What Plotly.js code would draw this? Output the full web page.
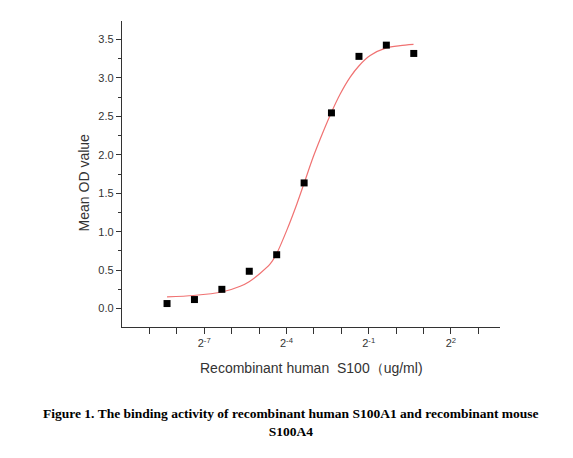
<!DOCTYPE html>
<html>
<head>
<meta charset="utf-8">
<script src="https://cdn.plot.ly/plotly-3.0.1.min.js"></script>
<style>
  html, body { margin: 0; padding: 0; background: #fff; }
  #myDiv { width: 573px; height: 458px; }
</style>
</head>
<body>
<div id="myDiv"></div>
<script>
// measured points (ug/ml, mean OD)
var conc = [0.00305, 0.0061, 0.0122, 0.0244, 0.0488, 0.0977, 0.195, 0.391, 0.781, 1.5625]
var od = [0.065, 0.117, 0.25, 0.485, 0.70, 1.634, 2.545, 3.28, 3.426, 3.318]

// fitted curve
var fitX = [0.00305, 0.00594, 0.0122, 0.0194, 0.0243, 0.0322, 0.0414, 0.0490, 0.0631, 0.0813,
  0.0979, 0.1237, 0.1593, 0.1936, 0.2432, 0.3131, 0.3898, 0.5191, 0.7786, 1.110, 1.553]
var fitY = [0.151, 0.170, 0.215, 0.29, 0.35, 0.46, 0.58, 0.72, 1.02, 1.36,
  1.634, 1.98, 2.31, 2.545, 2.79, 3.01, 3.155, 3.29, 3.39, 3.42, 3.435]

// x ticks: every power of two, labels every third
var tickPow = [-9, -8, -7, -6, -5, -4, -3, -2, -1, 0, 1, 2, 3]
var labelPow = [-7, -4, -1, 2]

var tickvals = tickPow.map(function(p) { return Math.pow(2, p) })
var ticktext = tickPow.map(function(p) {
  return labelPow.indexOf(p) >= 0 ? '2<sup>' + p + '</sup>' : ''
})

var fit = {
  x: fitX,
  y: fitY,
  type: 'scatter',
  mode: 'lines',
  line: {color: '#f07272', width: 1.2, shape: 'spline', smoothing: 0.8},
  hoverinfo: 'skip'
}

var pts = {
  x: conc,
  y: od,
  type: 'scatter',
  mode: 'markers',
  marker: {symbol: 'square', size: 7, color: '#000'}
}

var L2 = Math.log10(2)

var layout = {
  width: 573,
  height: 458,
  margin: {l: 122, r: 73, t: 21, b: 131},
  showlegend: false,
  paper_bgcolor: '#fff',
  plot_bgcolor: '#fff',
  font: {family: 'Liberation Sans, Arial, sans-serif', size: 11, color: '#333'},
  xaxis: {
    type: 'log',
    range: [-10 * L2, 3.79 * L2],
    tickvals: tickvals,
    ticktext: ticktext,
    ticks: 'outside',
    ticklen: 6,
    tickwidth: 1.2,
    tickcolor: '#333',
    showline: true,
    linecolor: '#333',
    linewidth: 1.3,
    showgrid: false,
    zeroline: false,
    tickfont: {size: 11, color: '#333'}
  },
  yaxis: {
    range: [-0.24, 3.74],
    tickvals: [0, 0.5, 1, 1.5, 2, 2.5, 3, 3.5],
    ticktext: ['0.0', '0.5', '1.0', '1.5', '2.0', '2.5', '3.0', '3.5'],
    ticks: 'outside',
    ticklen: 5,
    tickwidth: 1.2,
    tickcolor: '#333',
    minor: {tickvals: [-0.25, 0.25, 0.75, 1.25, 1.75, 2.25, 2.75, 3.25, 3.75], ticks: 'outside', ticklen: 3, tickcolor: '#333', tickwidth: 1},
    showline: true,
    linecolor: '#333',
    linewidth: 1.3,
    showgrid: false,
    zeroline: false,
    tickfont: {size: 11, color: '#333'}
  },
  annotations: [
    {
      text: 'Recombinant human  S100（ug/ml)',
      xref: 'paper', yref: 'paper', x: 0.5, y: -0.135,
      xanchor: 'center', yanchor: 'middle', showarrow: false,
      font: {size: 14, color: '#333'}
    },
    {
      text: 'Mean OD value',
      xref: 'paper', yref: 'paper', x: -0.1, y: 0.47,
      xanchor: 'center', yanchor: 'middle', textangle: -90, showarrow: false,
      font: {size: 14, color: '#333'}
    },
    {
      text: '<b>Figure 1. The binding activity of recombinant human S100A1 and recombinant mouse</b><br><b>S100A4</b>',
      xref: 'paper', yref: 'paper', x: 0.447, y: -0.312,
      xanchor: 'center', yanchor: 'middle', showarrow: false, align: 'center',
      font: {family: 'Liberation Serif, Times New Roman, serif', size: 13.5, color: '#000'}
    }
  ]
}

Plotly.newPlot('myDiv', [fit, pts], layout, {displayModeBar: false})
</script>
</body>
</html>
